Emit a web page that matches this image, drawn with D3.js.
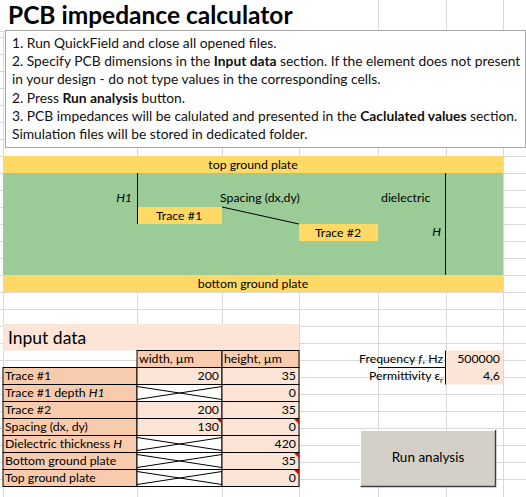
<!DOCTYPE html>
<html><head><meta charset="utf-8">
<script src="https://cdn.jsdelivr.net/npm/d3@7"></script>
<style>body{margin:0;background:#fff}text{font-family:Lato,"Open Sans",sans-serif}</style>
</head><body><svg id="c" width="526" height="497"></svg>
<script>
const title = "PCB impedance calculator";
const instructions = [
  [["1. Run QuickField and close all opened files.",0]],
  [["2. Specify PCB dimensions in the ",0],["Input data",1],[" section. If the element does not present",0]],
  [["in your design - do not type values in the corresponding cells.",0]],
  [["2. Press ",0],["Run analysis",1],[" button.",0]],
  [["3. PCB impedances will be calulated and presented in the ",0],["Caclulated values",1],[" section.",0]],
  [["Simulation files will be stored in dedicated folder.",0]]
];
const rowLabels = ["Trace #1","Trace #1 depth H1","Trace #2","Spacing (dx, dy)","Dielectric thickness H","Bottom ground plate","Top ground plate"];
const widths = [200, null, 200, 130, null, null, null];
const heights = [35, 0, 35, 0, 420, 35, 0];
const flagged = [false,false,false,true,false,true,true];
const paramLabels = ["Frequency f, Hz","Permittivity εr"];
const paramValues = ["500000","4,6"];

const svg = d3.select("#c");
const cols = [3,137,222,299,378,446,503,526];
const rowH = 17.0;
const fs = 12.3;
const rows = d3.range(-9,20).map(k=>156+k*rowH).filter(v=>v>30&&v<497);
const g = svg.append("g").attr("stroke","#d9d9d9").attr("stroke-width",1);
cols.forEach(c=>g.append("line").attr("x1",c+.5).attr("x2",c+.5).attr("y1",0).attr("y2",497));
rows.forEach(r=>g.append("line").attr("x1",0).attr("x2",526).attr("y1",Math.round(r)+.5).attr("y2",Math.round(r)+.5));
g.append("line").attr("x1",0).attr("x2",526).attr("y1",31.5).attr("y2",31.5);
svg.append("rect").attr("x",0).attr("y",0).attr("width",300).attr("height",31).attr("fill","#fff");
svg.append("text").attr("x",8).attr("y",24).attr("font-size",24.5).attr("font-weight",700).text(title);

svg.append("rect").attr("x",5.5).attr("y",30.5).attr("width",520).attr("height",117).attr("fill","#fff").attr("stroke","#a6a6a6");
instructions.forEach((line,i)=>{
  const t = svg.append("text").attr("x",12).attr("y",48+i*18.2).attr("font-size",13.8).attr("fill","#111");
  line.forEach(([s,b])=>t.append("tspan").attr("font-weight",b?700:400).text(s));
});

const yel="#fed966", grn="#9bcc98";
const y = r=>156+r*rowH;
svg.append("rect").attr("x",3).attr("y",y(0)).attr("width",500).attr("height",rowH).attr("fill",yel);
svg.append("rect").attr("x",3).attr("y",y(1)).attr("width",500).attr("height",rowH*6).attr("fill",grn);
svg.append("rect").attr("x",3).attr("y",y(7)).attr("width",500).attr("height",rowH).attr("fill",yel);
svg.append("text").attr("x",253).attr("y",y(0)+12.5).attr("text-anchor","middle").attr("font-size",fs).text("top ground plate");
svg.append("text").attr("x",253).attr("y",y(7)+12.5).attr("text-anchor","middle").attr("font-size",fs).text("bottom ground plate");
svg.append("rect").attr("x",137).attr("y",y(3)).attr("width",85).attr("height",rowH).attr("fill",yel);
svg.append("rect").attr("x",299).attr("y",y(4)).attr("width",79).attr("height",rowH).attr("fill",yel);
svg.append("text").attr("x",179).attr("y",y(3)+12.5).attr("text-anchor","middle").attr("font-size",fs).text("Trace #1");
svg.append("text").attr("x",338).attr("y",y(4)+12.5).attr("text-anchor","middle").attr("font-size",fs).text("Trace #2");
svg.append("line").attr("x1",137.5).attr("x2",137.5).attr("y1",y(1)).attr("y2",y(4)).attr("stroke","#000");
svg.append("line").attr("x1",445.5).attr("x2",445.5).attr("y1",y(1)).attr("y2",y(7)).attr("stroke","#000");
svg.append("line").attr("x1",222).attr("x2",299).attr("y1",y(3)).attr("y2",y(4)).attr("stroke","#000");
svg.append("text").attr("x",132).attr("y",y(2)+12).attr("text-anchor","end").attr("font-size",fs).attr("font-style","italic").text("H1");
svg.append("text").attr("x",220).attr("y",y(2)+12).attr("font-size",fs).text("Spacing (dx,dy)");
svg.append("text").attr("x",381).attr("y",y(2)+12).attr("font-size",fs).text("dielectric");
svg.append("text").attr("x",441).attr("y",y(4)+12).attr("text-anchor","end").attr("font-size",fs).attr("font-style","italic").text("H");

const light="#fce4d6", dark="#f8cbad";
const ty0 = 350.5;
svg.append("rect").attr("x",3).attr("y",324).attr("width",296).attr("height",ty0-324).attr("fill",light);
svg.append("text").attr("x",8).attr("y",344).attr("font-size",17.5).text("Input data");
const ry = i=>ty0+(i+1)*rowH;
const tb = svg.append("g");
[["width, µm",137,222],["height, µm",222,299]].forEach(([s,a,b])=>{
  tb.append("rect").attr("x",a).attr("y",ty0).attr("width",b-a).attr("height",rowH).attr("fill",dark).attr("stroke","#000");
  tb.append("text").attr("x",a+2).attr("y",ty0+12.8).attr("font-size",fs).text(s);
});
rowLabels.forEach((lab,i)=>{
  const yy = ry(i);
  tb.append("rect").attr("x",3).attr("y",yy).attr("width",134).attr("height",rowH).attr("fill",dark).attr("stroke","#000");
  const t = tb.append("text").attr("x",5).attr("y",yy+12.8).attr("font-size",fs);
  if(lab.endsWith(" H1")){t.append("tspan").text("Trace #1 depth ");t.append("tspan").attr("font-style","italic").text("H1");}
  else if(lab.endsWith(" H")){t.append("tspan").text("Dielectric thickness ");t.append("tspan").attr("font-style","italic").text("H");}
  else t.text(lab);
  tb.append("rect").attr("x",137).attr("y",yy).attr("width",85).attr("height",rowH).attr("fill",widths[i]==null?"#fff":light).attr("stroke","#000");
  if(widths[i]==null){
    tb.append("path").attr("d",`M137,${yy+2}L222,${yy+rowH-2}M137,${yy+rowH-2}L222,${yy+2}`).attr("stroke","#000").attr("fill","none");
  } else tb.append("text").attr("x",219).attr("y",yy+12.8).attr("text-anchor","end").attr("font-size",fs).text(widths[i]);
  tb.append("rect").attr("x",222).attr("y",yy).attr("width",77).attr("height",rowH).attr("fill",light).attr("stroke","#000");
  tb.append("text").attr("x",296).attr("y",yy+12.8).attr("text-anchor","end").attr("font-size",fs).text(heights[i]);
  if(flagged[i]){
    [222,299].forEach(cx=>{ if(cx===222 && widths[i]==null) return;
      tb.append("path").attr("d",`M${cx-5},${yy+0.5}L${cx},${yy+0.5}L${cx},${yy+5.5}Z`).attr("fill","#e00000");});
  }
});

paramLabels.forEach((lab,i)=>{
  const yy = ty0+i*rowH;
  svg.append("rect").attr("x",446).attr("y",yy).attr("width",57).attr("height",rowH).attr("fill",light);
  const t = svg.append("text").attr("x",443).attr("y",yy+12.8).attr("text-anchor","end").attr("font-size",fs);
  if(i===0){t.append("tspan").text("Frequency ");t.append("tspan").attr("font-style","italic").text("f");t.append("tspan").text(", Hz");}
  else {t.append("tspan").text("Permittivity ε");t.append("tspan").attr("font-size",8).attr("dy",3).text("r");}
  svg.append("text").attr("x",500).attr("y",yy+12.8).attr("text-anchor","end").attr("font-size",fs).text(paramValues[i]);
});
svg.append("line").attr("x1",445.5).attr("x2",445.5).attr("y1",ty0).attr("y2",ty0+2*rowH).attr("stroke","#000");
svg.append("line").attr("x1",378).attr("x2",446).attr("y1",ty0+rowH).attr("y2",ty0+rowH).attr("stroke","#000");

svg.append("rect").attr("x",360).attr("y",430).attr("width",135).attr("height",56).attr("fill","#d4d0c8");
svg.append("path").attr("d","M360.5,486.5H495.5V430").attr("stroke","#404040").attr("stroke-width",1.5).attr("fill","none");
svg.append("path").attr("d","M360.5,486V430.5H495").attr("stroke","#fff").attr("fill","none");
svg.append("text").attr("x",428).attr("y",462).attr("text-anchor","middle").attr("font-size",13.5).text("Run analysis");
</script></body></html>
